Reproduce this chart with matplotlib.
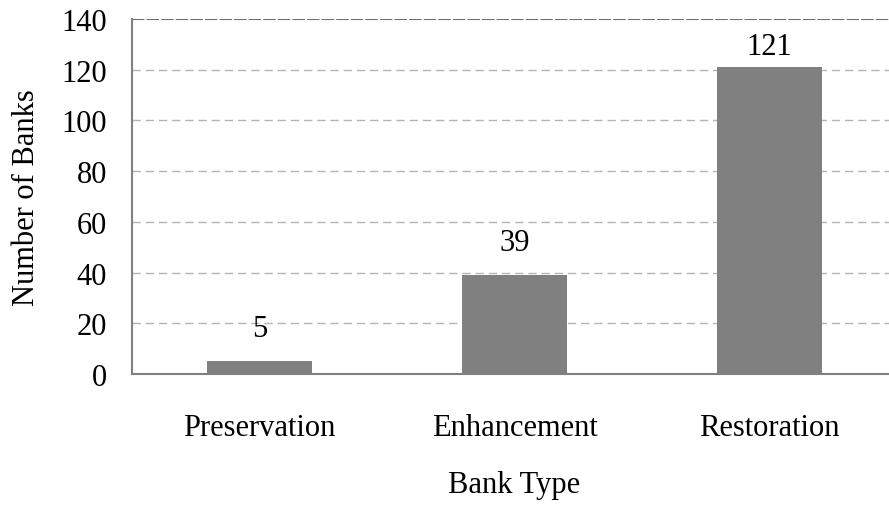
import matplotlib.pyplot as plt

bank_types = ['Preservation', 'Enhancement', 'Restoration']
bank_counts = [5, 39, 121]
y_ticks = [0, 20, 40, 60, 80, 100, 120, 140]

plt.rcParams['font.family'] = ['Liberation Serif', 'DejaVu Serif']
fs = 22

fig = plt.figure(figsize=(8.89, 5.06), dpi=100)
ax = fig.add_axes([0.1485, 0.2589, 0.8605, 0.7016])

x = range(len(bank_types))
ax.bar(x, bank_counts, width=0.41, color='#808080', zorder=3)
for i, v in zip(x, bank_counts):
    ax.text(i, min(v + 12.8, 129), str(v), ha='center', va='center', fontsize=fs)

ax.set_xlim(-0.5, 2.5)
ax.set_ylim(0, 140)
ax.set_yticks(y_ticks)
ax.set_xticks(list(x))
ax.set_xticklabels(bank_types)
ax.tick_params(axis='both', length=0, labelsize=fs)
ax.tick_params(axis='x', pad=28)
ax.tick_params(axis='y', pad=18)

for t in y_ticks[1:-1]:
    ax.axhline(t, color='#b4b4b4', lw=1, ls=(0, (6, 3.5)), zorder=1)
ax.axhline(140, color='#707070', lw=1.5, ls=(0, (6, 1)), zorder=1)

for s in ['top', 'right']:
    ax.spines[s].set_visible(False)
for s in ['left', 'bottom']:
    ax.spines[s].set_color('#808080')
    ax.spines[s].set_linewidth(1.5)

ax.set_xlabel('Bank Type', fontsize=fs, labelpad=20)
ax.set_ylabel('Number of Banks', fontsize=fs, labelpad=15)

fig.savefig('out.png', dpi=100)
